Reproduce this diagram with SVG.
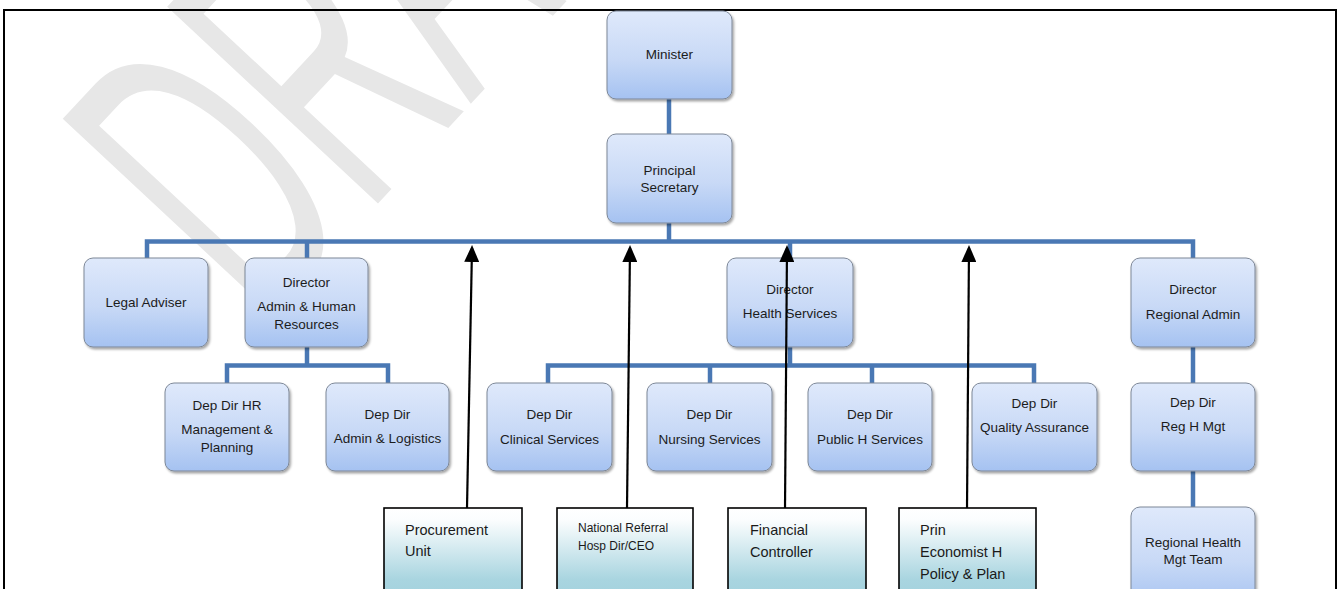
<svg xmlns="http://www.w3.org/2000/svg" width="1341" height="589" viewBox="0 0 1341 589">
  <defs>
    <linearGradient id="blueFill" x1="0" y1="0" x2="0" y2="1">
      <stop offset="0" stop-color="#dfe9fb"/>
      <stop offset="0.55" stop-color="#c8d9f6"/>
      <stop offset="1" stop-color="#a5c2f1"/>
    </linearGradient>
    <linearGradient id="tealFill" x1="0" y1="0" x2="0" y2="1">
      <stop offset="0" stop-color="#ffffff"/>
      <stop offset="0.12" stop-color="#fbfdfe"/>
      <stop offset="0.7" stop-color="#a9d5e0"/>
      <stop offset="1" stop-color="#a0cfdc"/>
    </linearGradient>
    <filter id="shadow" x="-10%" y="-10%" width="125%" height="130%">
      <feDropShadow dx="1.5" dy="2" stdDeviation="1.3" flood-color="#000" flood-opacity="0.35"/>
    </filter>
    <marker id="arrowHead" viewBox="0 0 17 15" refX="14" refY="7.5" markerWidth="17" markerHeight="15" markerUnits="userSpaceOnUse" orient="auto">
      <path d="M0,0 L17,7.5 L0,15 z" fill="#000"/>
    </marker>
  </defs>
  <style>
    .node rect { fill: url(#blueFill); stroke: #7d8797; stroke-width: 1; filter: url(#shadow); }
    .node text { font-family: "Liberation Sans", Arial, sans-serif; font-size: 13.5px; fill: #1c1c1c; text-anchor: middle; }
    .unit rect { fill: url(#tealFill); stroke: #000; stroke-width: 1.6; }
    .unit text { font-family: "Liberation Sans", Arial, sans-serif; font-size: 14.5px; fill: #1a1a1a; }
    .unit text.small { font-size: 12px; }
    .bus { fill: none; stroke: #4a78b4; stroke-width: 4.5; stroke-linejoin: miter; }
    .link { stroke: #000; stroke-width: 2.2; marker-end: url(#arrowHead); }
    .wm { font-family: "Liberation Sans", Arial, sans-serif; font-size: 100px; fill: #e7e7e7; }
  </style>

  <rect width="1341" height="589" fill="#fff"/>

  <!-- watermark -->
  <text class="wm" transform="translate(261.7,328.1) rotate(-47) scale(2.12,4.19)">DRAFT</text>

  <!-- page frame -->
  <rect x="4" y="10" width="1332" height="600" fill="none" stroke="#000" stroke-width="2"/>

  <!-- organisational connectors -->
  <g id="connectors">
    <path class="bus" d="M669,99 V134"/>
    <path class="bus" d="M669,223 V241.5"/>
    <path class="bus" d="M147,258 V241.5 H1193 V258"/>
    <path class="bus" d="M307,241.5 V258"/>
    <path class="bus" d="M790,241.5 V258"/>
    <path class="bus" d="M307,347 V365.5"/>
    <path class="bus" d="M227,383 V365.5 H388 V383"/>
    <path class="bus" d="M790,347 V365.5"/>
    <path class="bus" d="M548,383 V365.5 H1034 V383"/>
    <path class="bus" d="M710,365.5 V383"/>
    <path class="bus" d="M872,365.5 V383"/>
    <path class="bus" d="M1193,347 V383"/>
    <path class="bus" d="M1193,471 V507"/>
  </g>

  <g id="minister" class="node">
    <rect x="607" y="11" width="125" height="88" rx="9"/>
    <text x="669.5" y="59">Minister</text>
  </g>
  <g id="principal-secretary" class="node">
    <rect x="607" y="134" width="125" height="89" rx="9"/>
    <text x="669.5" y="175">Principal</text>
    <text x="669.5" y="192">Secretary</text>
  </g>
  <g id="legal-adviser" class="node">
    <rect x="84" y="258" width="124" height="89" rx="9"/>
    <text x="146" y="307">Legal Adviser</text>
  </g>
  <g id="director-admin-hr" class="node">
    <rect x="245" y="258" width="123" height="89" rx="9"/>
    <text x="306.5" y="287">Director</text>
    <text x="306.5" y="311">Admin &amp; Human</text>
    <text x="306.5" y="329">Resources</text>
  </g>
  <g id="director-health" class="node">
    <rect x="727" y="258" width="126" height="89" rx="9"/>
    <text x="790" y="294">Director</text>
    <text x="790" y="318">Health Services</text>
  </g>
  <g id="director-regional" class="node">
    <rect x="1131" y="258" width="124" height="89" rx="9"/>
    <text x="1193" y="294">Director</text>
    <text x="1193" y="319">Regional Admin</text>
  </g>
  <g id="dep-dir-hr" class="node">
    <rect x="165" y="383" width="124" height="88" rx="9"/>
    <text x="227" y="410">Dep Dir HR</text>
    <text x="227" y="434">Management &amp;</text>
    <text x="227" y="452">Planning</text>
  </g>
  <g id="dep-dir-admin-logistics" class="node">
    <rect x="326" y="383" width="123" height="88" rx="9"/>
    <text x="387.5" y="419">Dep Dir</text>
    <text x="387.5" y="443">Admin &amp; Logistics</text>
  </g>
  <g id="dep-dir-clinical" class="node">
    <rect x="487" y="383" width="125" height="88" rx="9"/>
    <text x="549.5" y="419">Dep Dir</text>
    <text x="549.5" y="444">Clinical Services</text>
  </g>
  <g id="dep-dir-nursing" class="node">
    <rect x="647" y="383" width="125" height="88" rx="9"/>
    <text x="709.5" y="419">Dep Dir</text>
    <text x="709.5" y="444">Nursing Services</text>
  </g>
  <g id="dep-dir-public-health" class="node">
    <rect x="808" y="383" width="124" height="88" rx="9"/>
    <text x="870" y="419">Dep Dir</text>
    <text x="870" y="444">Public H Services</text>
  </g>
  <g id="dep-dir-quality" class="node">
    <rect x="972" y="383" width="125" height="88" rx="9"/>
    <text x="1034.5" y="408">Dep Dir</text>
    <text x="1034.5" y="432">Quality Assurance</text>
  </g>
  <g id="dep-dir-reg-health" class="node">
    <rect x="1131" y="383" width="124" height="88" rx="9"/>
    <text x="1193" y="407">Dep Dir</text>
    <text x="1193" y="431">Reg H Mgt</text>
  </g>
  <g id="regional-health-team" class="node">
    <rect x="1131" y="507" width="124" height="100" rx="9"/>
    <text x="1193" y="547">Regional Health</text>
    <text x="1193" y="564">Mgt Team</text>
  </g>

  <!-- units reporting to the Principal Secretary -->
  <g id="procurement" class="unit">
    <rect x="384" y="508" width="138" height="102"/>
    <text x="405" y="535">Procurement</text>
    <text x="405" y="556">Unit</text>
  </g>
  <g id="national-referral" class="unit">
    <rect x="557" y="508" width="136" height="102"/>
    <text class="small" x="578" y="532">National Referral</text>
    <text class="small" x="578" y="550">Hosp Dir/CEO</text>
  </g>
  <g id="financial-controller" class="unit">
    <rect x="728" y="508" width="138" height="102"/>
    <text x="750" y="535">Financial</text>
    <text x="750" y="557">Controller</text>
  </g>
  <g id="prin-economist" class="unit">
    <rect x="899" y="508" width="137" height="102"/>
    <text x="920" y="535">Prin</text>
    <text x="920" y="557">Economist H</text>
    <text x="920" y="579">Policy &amp; Plan</text>
  </g>

  <g id="reporting-lines">
    <line class="link" x1="467" y1="508" x2="472" y2="248"/>
    <line class="link" x1="627" y1="508" x2="630" y2="248"/>
    <line class="link" x1="785" y1="508" x2="787" y2="248"/>
    <line class="link" x1="967" y1="508" x2="969" y2="248"/>
  </g>
</svg>
